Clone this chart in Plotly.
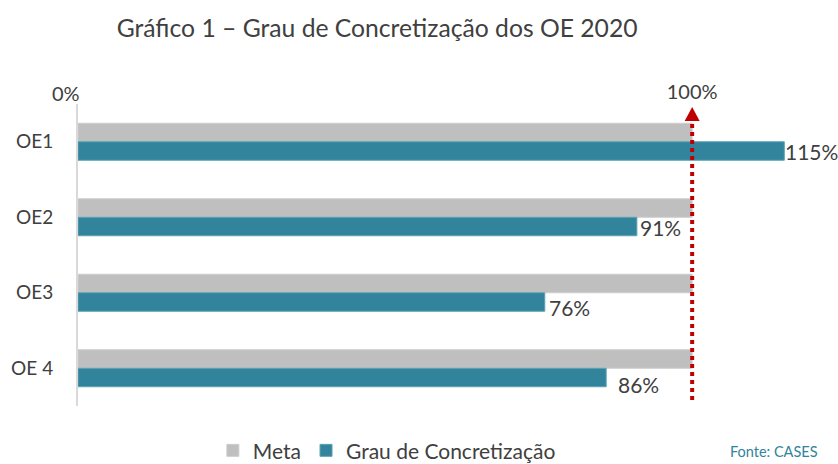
import plotly.graph_objects as go

categories = ["OE1", "OE2", "OE3", "OE 4"]
meta = [100, 100, 100, 100]
grau = [115, 91, 76, 86]
grau_labels = ["115%", "91%", "76%", "86%"]
tick_vals = [100]
tick_text = ["100%"]
zero_label = "0%"

FONT = "Lato"
TXT = "#404040"
GRAY = "#BFBFBF"
TEAL = "#31849B"
RED = "#C00000"

fig = go.Figure()
fig.add_trace(go.Bar(y=categories, x=meta, orientation="h", name="Meta",
                     marker=dict(color=GRAY, line=dict(color="#CDCDCD", width=1))))
fig.add_trace(go.Bar(y=categories, x=grau, orientation="h", name="Grau de Concretização",
                     marker=dict(color=TEAL, line=dict(color="#5CA2B5", width=1))))

yshifts = [-10, -10, -15, -16]
xshifts = [0, 2, 3, 11]
for c, v, t, ys, xs in zip(categories, grau, grau_labels, yshifts, xshifts):
    fig.add_annotation(x=v, y=c, text=t, showarrow=False, xanchor="left", yanchor="middle",
                       xshift=xs, yshift=ys, borderpad=0,
                       font=dict(family=FONT, size=21, color=TXT))

fig.add_annotation(x=0, y=1, yref="paper", text=zero_label, showarrow=False,
                   xanchor="right", yanchor="bottom", yshift=-3, xshift=4,
                   font=dict(family=FONT, size=20, color=TXT))

# red dotted target line with arrow
fig.add_shape(type="line", xref="x", yref="paper", x0=100, x1=100, y0=0.02, y1=0.944,
              line=dict(color=RED, width=4, dash="dot"))
fig.add_shape(type="path", xref="x", yref="paper",
              path="M 98.78,0.944 L 101.22,0.944 L 100,0.99 Z",
              fillcolor=RED, line=dict(color=RED, width=0))

fig.add_annotation(text="Fonte: CASES", xref="paper", yref="paper", x=1.007, y=-0.152,
                   xanchor="right", yanchor="middle", showarrow=False,
                   font=dict(family=FONT, size=14.5, color=TEAL))

fig.update_layout(
    width=838, height=464,
    margin=dict(l=78, r=23, t=104, b=58, autoexpand=False),
    paper_bgcolor="white", plot_bgcolor="white",
    title=dict(text="Gráfico 1 – Grau de Concretização dos OE 2020", x=0.45, xanchor="center",
               y=1 - 28 / 464, yanchor="middle", font=dict(family=FONT, size=24.7, color=TXT)),
    barmode="group", bargap=0.51, bargroupgap=0,
    showlegend=True,
    legend=dict(orientation="h", x=0.183, xanchor="left", y=-0.148, yanchor="middle",
                font=dict(family=FONT, size=21, color=TXT), itemwidth=30,
                traceorder="normal"),
    xaxis=dict(range=[0, 120], side="top", tickvals=tick_vals, ticktext=tick_text,
               showgrid=False, zeroline=False, showline=False, ticks="", automargin=False,
               tickfont=dict(family=FONT, size=20, color=TXT)),
    yaxis=dict(autorange="reversed", showgrid=False, zeroline=False, automargin=False,
               showline=True, linecolor="#D9D9D9", linewidth=2, ticks="",
               ticklabelstandoff=19,
               tickfont=dict(family=FONT, size=19, color=TXT)),
    font=dict(family=FONT, color=TXT),
)

fig.write_html("out.html", config={"displayModeBar": False},
               post_script="document.body.style.margin='0';")
